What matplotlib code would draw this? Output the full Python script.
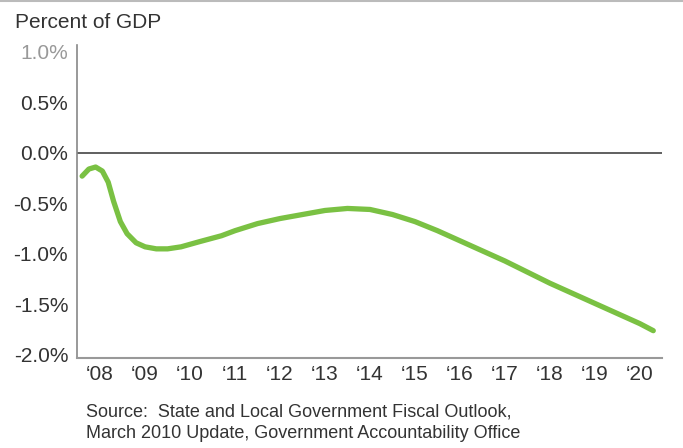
import matplotlib.pyplot as plt
from matplotlib.lines import Line2D

plt.rcParams['font.family'] = ['Liberation Sans', 'DejaVu Sans']

# Balance as percent of GDP
years = [2007.6, 2007.75, 2007.9, 2008.05, 2008.18, 2008.3, 2008.45, 2008.6,
         2008.8, 2009.0, 2009.25, 2009.5, 2009.8, 2010.2, 2010.7, 2011.0,
         2011.5, 2012.0, 2012.5, 2013.0, 2013.5, 2014.0, 2014.5, 2015.0,
         2015.5, 2016.0, 2016.5, 2017.0, 2017.5, 2018.0, 2018.5, 2019.0,
         2019.5, 2020.0, 2020.3]
balance = [-0.23, -0.16, -0.14, -0.18, -0.29, -0.48, -0.68, -0.80,
           -0.89, -0.93, -0.95, -0.95, -0.93, -0.88, -0.82, -0.77,
           -0.70, -0.65, -0.61, -0.57, -0.55, -0.56, -0.61, -0.68,
           -0.77, -0.87, -0.97, -1.07, -1.18, -1.29, -1.39, -1.49,
           -1.59, -1.69, -1.76]

tick_years = list(range(2008, 2021))
tick_labels = ["\u2018%02d" % (y % 100) for y in tick_years]
y_ticks = [1.0, 0.5, 0.0, -0.5, -1.0, -1.5, -2.0]
y_labels = ["1.0%", "0.5%", "0.0%", "-0.5%", "-1.0%", "-1.5%", "-2.0%"]

fig = plt.figure(figsize=(6.83, 4.48), dpi=100)
ax = fig.add_axes([0.113, 0.201, 0.856, 0.699])

ax.axhline(0, color='#444444', lw=1.2, zorder=2)
ax.plot(years, balance, color='#7ac143', lw=3.8, solid_capstyle='round',
        solid_joinstyle='round', zorder=3)

ax.set_xlim(2007.49, 2020.49)
ax.set_ylim(-2.03, 1.07)
ax.set_xticks(tick_years)
ax.set_xticklabels(tick_labels)
ax.set_yticks(y_ticks)
ax.set_yticklabels(y_labels)
ax.tick_params(axis='both', length=0, labelsize=15, labelcolor='#333333')
ax.tick_params(axis='y', pad=6.5)
ax.tick_params(axis='x', pad=5)
ax.get_yticklabels()[0].set_color('#999999')

for side in ['top', 'right']:
    ax.spines[side].set_visible(False)
ax.spines['left'].set_color('#888888')
ax.spines['bottom'].set_color('#999999')
ax.spines['left'].set_linewidth(1.2)
ax.spines['bottom'].set_linewidth(1.5)

fig.text(0.022, 0.95, "Percent of GDP", fontsize=15, color='#333333',
         va='center', ha='left')
fig.text(0.126, 0.081, "Source:  State and Local Government Fiscal Outlook,",
         fontsize=13, color='#333333', va='center', ha='left')
fig.text(0.126, 0.032, "March 2010 Update, Government Accountability Office",
         fontsize=13, color='#333333', va='center', ha='left')

fig.add_artist(Line2D([0, 1], [0.997, 0.997], transform=fig.transFigure,
                      color='#bbbbbb', lw=1.5))

fig.savefig('out.png', dpi=100)
